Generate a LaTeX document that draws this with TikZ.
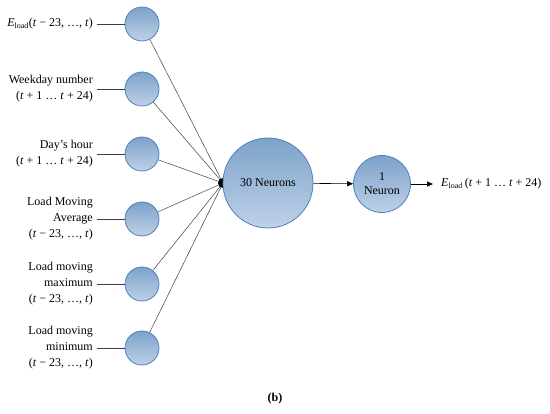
\documentclass[tikz,border=0pt]{standalone}
\usepackage{fontspec}
\setmainfont{Liberation Serif}
\usetikzlibrary{positioning,arrows.meta}
\definecolor{cellline}{HTML}{4F81BD}
\definecolor{celltop}{HTML}{7DA2CA}
\definecolor{cellbot}{HTML}{BED1E7}

\begin{document}
\begin{tikzpicture}
                    [x=1pt, y=-1pt,
                    cell/.style={circle,
                        draw=cellline, line width=0.8pt,
                        top color=celltop, bottom color=cellbot,
                        inner sep=0pt, align=center,
                        font=\fontsize{12}{14}\selectfont},
                    lbl/.style={anchor=east, align=right,
                        inner xsep=4pt, inner ysep=0pt,
                        font=\fontsize{12}{16}\selectfont},
                    wire/.style={draw=black!75, line width=0.5pt},
                    arr/.style={-{Triangle[length=6pt,width=5pt]},
                        line width=0.6pt}]
                    \useasboundingbox (0,0) rectangle (550,414);

                    \coordinate (hub) at (223,183);

                    % input layer
                    \foreach \n/\y/\txt in {
                        1/24/{\textit{E}\textsubscript{load}(\textit{t} − 23, …, \textit{t})},
                        2/89/{Weekday number\\(\textit{t} + 1 … \textit{t} + 24)},
                        3/154/{Day’s hour\\(\textit{t} + 1 … \textit{t} + 24)},
                        4/219/{Load Moving\\Average\\(\textit{t} − 23, …, \textit{t})},
                        5/284/{Load moving\\maximum\\(\textit{t} − 23, …, \textit{t})},
                        6/348/{Load moving\\minimum\\(\textit{t} − 23, …, \textit{t})}}
                    {
                        \node[cell, minimum size=34pt] (in\n) at (142,\y) {};
                        \node[lbl] (lab\n) at (97,\y) {\txt};
                        \draw[wire] (lab\n) -- (in\n);
                        \draw[wire] (in\n) -- (hub);
                    }

                    \fill (hub) circle (5pt);

                    % hidden and output layer
                    \node[cell, minimum size=90pt] (hid) at (268,183)
                        {30 Neurons};
                    \node[cell, minimum size=57pt] (outc) at (382,184)
                        {1\\Neuron};
                    \node[anchor=west, inner xsep=8pt, inner ysep=0pt,
                        font=\fontsize{12}{16}\selectfont] (res) at (433,184)
                        {\textit{E}\textsubscript{load}\,(\textit{t} + 1 … \textit{t} + 24)};

                    \path[arr]
                        (hid)   edge (outc)
                        (outc)  edge (res);

                    \node[font=\fontsize{12}{16}\selectfont\bfseries] (cap)
                        at (275,399) {(b)};
                \end{tikzpicture}
\end{document}
